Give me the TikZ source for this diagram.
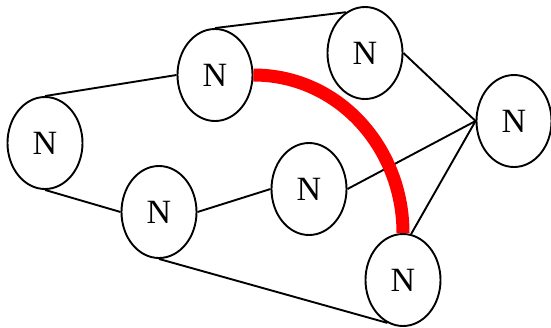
\documentclass[tikz,border=0pt]{standalone}
\usepackage{fontspec}
\setmainfont{Liberation Serif}
\usetikzlibrary{shapes.geometric}
\begin{document}
\begin{tikzpicture}[x=1pt,y=-1pt,
  nd/.style={ellipse,draw,line width=1.9pt,minimum width=75pt,minimum height=92pt,inner sep=0pt,
    font=\fontsize{34}{34}\selectfont},
  link/.style={line width=1.9pt},
  hot/.style={line width=13pt,red,line cap=butt}]
\useasboundingbox (0,0) rectangle (551,327);
\node[nd] (L) at (45,143) {N};
\node[nd] (A) at (215,75) {N};
\node[nd] (B) at (365,53) {N};
\node[nd] (R) at (514,121) {N};
\node[nd] (M) at (309,189) {N};
\node[nd] (C) at (159,212) {N};
\node[nd] (D) at (403,280) {N};
\draw[link] (L.north) -- (A.west);
\draw[link] (A.north) -- (B.115);
\draw[link] (B.east) -- (R.west);
\draw[link] (M.east) -- (R.west);
\draw[link] (D.80) -- (R.west);
\draw[link] (L.south) -- (C.west);
\draw[link] (C.east) -- (M.west);
\draw[link] (C.south) -- (D.250);
\draw[hot] (A.east) to[out=0,in=90] (D.north);
\end{tikzpicture}
\end{document}
